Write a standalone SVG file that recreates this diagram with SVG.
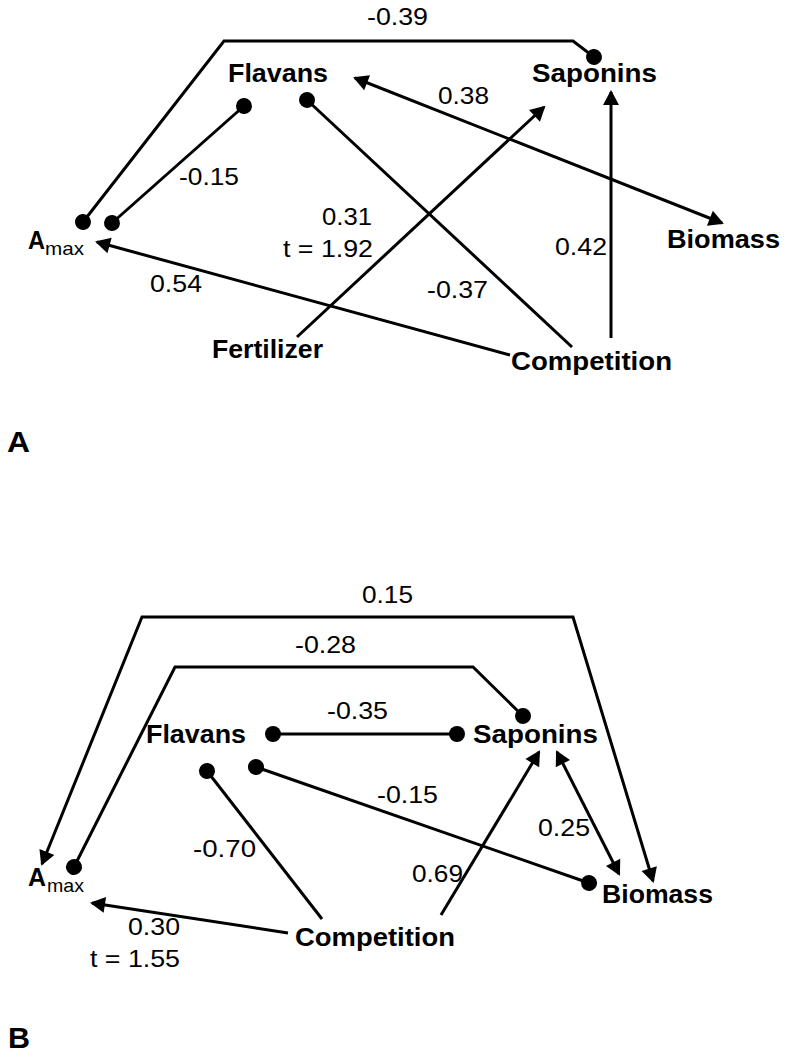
<svg xmlns="http://www.w3.org/2000/svg" width="787" height="1057" viewBox="0 0 787 1057">
<style>
.n{font-family:"Liberation Sans",Arial,sans-serif;font-weight:bold;font-size:26px;fill:#000}
.v{font-family:"Liberation Sans",Arial,sans-serif;font-size:24px;fill:#000}
.s{font-family:"Liberation Sans",Arial,sans-serif;font-size:19px;fill:#000}
.p{font-family:"Liberation Sans",Arial,sans-serif;font-weight:bold;font-size:30px;fill:#000}
.e{fill:none;stroke:#000;stroke-width:3;stroke-linejoin:miter}
.ar{marker-end:url(#arrow)}
.ab{marker-start:url(#arrow);marker-end:url(#arrow)}
.dd{marker-start:url(#dot);marker-end:url(#dot)}
.ds{marker-start:url(#dot)}
</style>
<defs>
<marker id="arrow" markerUnits="userSpaceOnUse" markerWidth="20" markerHeight="20" refX="13" refY="8" orient="auto-start-reverse" overflow="visible"><path d="M0,0 L15,8 L0,16 z" fill="#000"/></marker>
<marker id="dot" markerUnits="userSpaceOnUse" markerWidth="18" markerHeight="18" refX="8" refY="8" orient="auto" overflow="visible"><circle cx="8" cy="8" r="8" fill="#000"/></marker>
</defs>
<rect width="787" height="1057" fill="#fff"/>
<g id="connectors">
<path class="e dd" d="M83,222 L224,41 L573,41 L594,57"/>
<path class="e dd" d="M112,223 L244,106"/>
<path class="e ab" d="M355,78 L722,223"/>
<path class="e ar" d="M297,337 L544,107"/>
<path class="e ar" d="M611,338 L611,92"/>
<path class="e ds" d="M307,100 L572,347"/>
<path class="e ar" d="M510,355 L97,242"/>
<path class="e ab" d="M42,864 L142,617 L573,617 L653,881"/>
<path class="e dd" d="M74,867 L175,667 L473,667 L523,716"/>
<path class="e dd" d="M273,734 L457,734"/>
<path class="e ds" d="M207,771 L322,919"/>
<path class="e dd" d="M256,767 L589,883"/>
<path class="e ar" d="M441,915 L539,752"/>
<path class="e ab" d="M557,752 L619,874"/>
<path class="e ar" d="M288,933 L92,903"/>
</g>
<g id="edge-labels">
<text class="v" x="367" y="25" textLength="61" lengthAdjust="spacingAndGlyphs">-0.39</text>
<text class="v" x="438" y="104" textLength="51" lengthAdjust="spacingAndGlyphs">0.38</text>
<text class="v" x="179" y="185" textLength="60" lengthAdjust="spacingAndGlyphs">-0.15</text>
<text class="v" x="322" y="225" textLength="50" lengthAdjust="spacingAndGlyphs">0.31</text>
<text class="v" x="283" y="257" textLength="90" lengthAdjust="spacingAndGlyphs">t = 1.92</text>
<text class="v" x="555" y="255" textLength="52" lengthAdjust="spacingAndGlyphs">0.42</text>
<text class="v" x="427" y="298" textLength="61" lengthAdjust="spacingAndGlyphs">-0.37</text>
<text class="v" x="150" y="292" textLength="52" lengthAdjust="spacingAndGlyphs">0.54</text>
<text class="v" x="362" y="603" textLength="51" lengthAdjust="spacingAndGlyphs">0.15</text>
<text class="v" x="295" y="653" textLength="61" lengthAdjust="spacingAndGlyphs">-0.28</text>
<text class="v" x="327" y="719" textLength="61" lengthAdjust="spacingAndGlyphs">-0.35</text>
<text class="v" x="377" y="803" textLength="61" lengthAdjust="spacingAndGlyphs">-0.15</text>
<text class="v" x="538" y="836" textLength="52" lengthAdjust="spacingAndGlyphs">0.25</text>
<text class="v" x="193" y="857" textLength="63" lengthAdjust="spacingAndGlyphs">-0.70</text>
<text class="v" x="412" y="882" textLength="51" lengthAdjust="spacingAndGlyphs">0.69</text>
<text class="v" x="128" y="935" textLength="52" lengthAdjust="spacingAndGlyphs">0.30</text>
<text class="v" x="90" y="967" textLength="90" lengthAdjust="spacingAndGlyphs">t = 1.55</text>
</g>
<g id="A-flavans"><text class="n" x="228" y="82" textLength="100" lengthAdjust="spacingAndGlyphs">Flavans</text></g>
<g id="A-saponins"><text class="n" x="532" y="82" textLength="125" lengthAdjust="spacingAndGlyphs">Saponins</text></g>
<g id="A-biomass"><text class="n" x="667" y="248" textLength="113" lengthAdjust="spacingAndGlyphs">Biomass</text></g>
<g id="A-amax"><text class="n" x="28" y="249" textLength="17" lengthAdjust="spacingAndGlyphs">A</text><text class="s" x="45" y="255" textLength="39" lengthAdjust="spacingAndGlyphs">max</text></g>
<g id="A-fertilizer"><text class="n" x="212" y="358" textLength="111" lengthAdjust="spacingAndGlyphs">Fertilizer</text></g>
<g id="A-competition"><text class="n" x="511" y="370" textLength="161" lengthAdjust="spacingAndGlyphs">Competition</text></g>
<g id="panel-A"><text class="p" x="7" y="452" textLength="23" lengthAdjust="spacingAndGlyphs">A</text></g>
<g id="B-flavans"><text class="n" x="146" y="743" textLength="100" lengthAdjust="spacingAndGlyphs">Flavans</text></g>
<g id="B-saponins"><text class="n" x="473" y="743" textLength="125" lengthAdjust="spacingAndGlyphs">Saponins</text></g>
<g id="B-biomass"><text class="n" x="602" y="903" textLength="111" lengthAdjust="spacingAndGlyphs">Biomass</text></g>
<g id="B-amax"><text class="n" x="28" y="886" textLength="18" lengthAdjust="spacingAndGlyphs">A</text><text class="s" x="47" y="892" textLength="37" lengthAdjust="spacingAndGlyphs">max</text></g>
<g id="B-competition"><text class="n" x="295" y="946" textLength="160" lengthAdjust="spacingAndGlyphs">Competition</text></g>
<g id="panel-B"><text class="p" x="8" y="1048" textLength="22" lengthAdjust="spacingAndGlyphs">B</text></g>
</svg>
